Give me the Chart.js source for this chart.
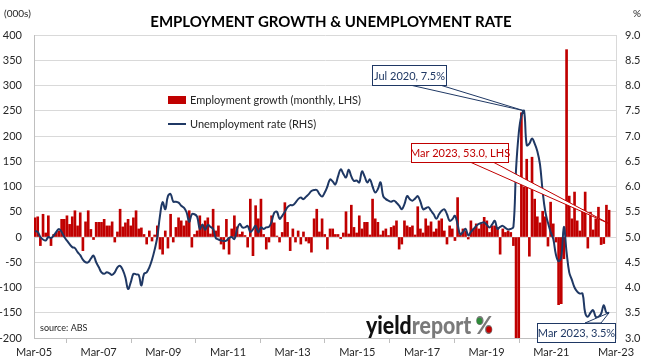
<!DOCTYPE html>
<html>
<head>
<meta charset="utf-8">
<script src="https://cdn.jsdelivr.net/npm/chart.js@4.4.1/dist/chart.umd.min.js"></script>
<style>
  html, body { margin: 0; padding: 0; background: #fff; }
  #wrap { width: 662px; height: 363px; }
</style>
</head>
<body>
<div id="wrap"><canvas id="chart" width="662" height="363"></canvas></div>
<script>
// Monthly employment change (000s), Mar 2005 .. Mar 2023
const empChange = [
    38, 40, -17, 45, 8, 42, -17, 5, 9, 12,                  // 2005 (Mar-Dec)
    35, 35, 42, 25, 40, 52, 22, 48, -27, 30, 52, 15,        // 2006
    -5, 29, 29, 29, 35, 22, 22, 30, -10, 10, 55, 20,        // 2007
    28, 35, 22, 38, 52, 16, 18, 5, -14, 12, -8, 4,          // 2008
    22, -24, -34, 12, -22, 45, -10, 19, 38, 32, 22, 32,     // 2009
    52, -20, 5, 12, 42, 22, 32, 38, 6, 55, 12, 22,          // 2010
    -14, -24, 35, -34, 16, 42, 20, 5, 10, 3, -20, 75,       // 2011
    -37, 62, 36, 75, 5, -24, -10, 42, 28, 2, -10, 9,        // 2012
    68, 29, -27, 16, -10, 12, -14, 10, -8, -12, -30, 36,    // 2013
    55, 10, 36, 5, -24, 16, 16, 5, 5, -3, 8, 50,            // 2014
    6, 63, 19, 8, 42, 16, 29, 29, 4, 75, 36, 29,            // 2015
    4, 12, 16, 3, 19, 22, 32, -24, -14, 32, 22, 19,         // 2016
    22, 4, 60, 16, 8, 36, 22, 30, 10, 16, 32, 36,           // 2017
    12, -14, 22, 16, -7, 78, 4, 16, 12, -4, 32, 16,         // 2018
    26, 16, 26, 39, 32, 9, 22, 22, 19, -34, 16, 9,          // 2019
    12, 9, -17, -600, -250, 246, 99, 154, -38, 158, 75, 40, // 2020
    28, 51, 40, -18, 69, 26, -10, -134, -132, -43, 371, 81, // 2021
    36, 89, 32, 12, 54, 89, -22, 49, 14, 36, 59, -15,       // 2022
    -13, 63, 53                                             // 2023 (Jan-Mar)
];

// Unemployment rate (%), same months
const unempRate = [
    5.12, 5.1, 5.0, 4.95, 4.93, 5.0, 4.98, 5.03, 5.1, 5.16,
    5.1, 5.0, 4.93, 4.86, 4.8, 4.78, 4.7, 4.64, 4.55, 4.5, 4.5, 4.57,
    4.63, 4.5, 4.4, 4.3, 4.27, 4.3, 4.28, 4.25, 4.3, 4.4, 4.43, 4.35,
    4.2, 3.97, 4.1, 4.27, 4.26, 4.25, 4.04, 4.27, 4.3, 4.4, 4.55, 4.75,
    5.0, 5.42, 5.69, 5.55, 5.81, 5.85, 5.7, 5.7, 5.68, 5.62, 5.58, 5.49,
    5.3, 5.45, 5.45, 5.4, 5.16, 5.25, 5.14, 5.24, 5.2, 5.16, 4.98, 4.95,
    4.93, 4.92, 4.93, 4.98, 5.0, 4.96, 5.15, 5.26, 5.19, 5.19, 5.22, 5.1,
    5.15, 5.22, 5.09, 5.19, 5.16, 5.19, 5.2, 5.3, 5.48, 5.5, 5.36, 5.42,
    5.5, 5.59, 5.63, 5.63, 5.68, 5.75, 5.78, 5.75, 5.8, 5.85, 5.91, 5.93,
    5.93, 5.85, 5.8, 5.88, 6.0, 6.14, 6.1, 6.04, 6.2, 6.34, 6.25, 6.18,
    6.33, 6.2, 6.11, 6.12, 6.08, 6.3, 6.2, 6.08, 6.14, 6.0, 5.88, 5.95,
    6.08, 5.81, 5.75, 5.72, 5.7, 5.72, 5.68, 5.62, 5.55, 5.65, 5.81, 5.75,
    5.72, 5.76, 5.81, 5.7, 5.55, 5.57, 5.59, 5.52, 5.45, 5.36, 5.45, 5.52,
    5.55, 5.45, 5.32, 5.35, 5.42, 5.25, 5.05, 5.1, 5.16, 5.03, 5.1, 5.16,
    5.22, 5.26, 5.28, 5.29, 5.24, 5.19, 5.25, 5.32, 5.16, 5.2, 5.22, 5.18,
    5.15, 5.16, 5.2, 6.35, 7.05, 7.4, 7.5, 6.82, 6.85, 6.95, 6.85, 6.7,
    6.44, 5.9, 5.5, 5.28, 5.1, 4.96, 4.65, 4.52, 4.6, 5.2, 4.7, 4.3,
    4.15, 4.0, 3.92, 3.88, 3.88, 3.5, 3.42, 3.5, 3.55, 3.42, 3.42, 3.48,
    3.65, 3.5, 3.5
];

const xTickLabels = ['Mar-05', 'Mar-07', 'Mar-09', 'Mar-11', 'Mar-13', 'Mar-15', 'Mar-17', 'Mar-19', 'Mar-21', 'Mar-23'];
const monthNames = ['Jan', 'Feb', 'Mar', 'Apr', 'May', 'Jun', 'Jul', 'Aug', 'Sep', 'Oct', 'Nov', 'Dec'];

// month label for each point (series starts Mar 2005)
const months = empChange.map((_, i) => {
    const t = 2 + i;
    return monthNames[t % 12] + ' ' + (2005 + Math.floor(t / 12));
});

const RED = '#C00000';
const NAVY = '#1F3864';
const TEXT = '#262626';

// Excel date axis runs slightly past the last bar
const xMin = -0.4, xMax = 218.6;

function callout(ctx, text, box, base, tip, color, textColor) {
    ctx.strokeStyle = color;
    ctx.lineWidth = 1;
    ctx.fillStyle = '#fff';
    ctx.beginPath();
    ctx.moveTo(base[0], base[1]);
    ctx.lineTo(tip.x, tip.y);
    ctx.lineTo(base[2], base[3]);
    ctx.closePath();
    ctx.fill();
    ctx.stroke();
    ctx.fillRect(box.x, box.y, box.w, box.h);
    ctx.strokeRect(box.x + 0.5, box.y + 0.5, box.w, box.h);
    ctx.fillStyle = textColor;
    ctx.font = '11px Lato';
    ctx.textAlign = 'center';
    ctx.textBaseline = 'middle';
    ctx.fillText(text, box.x + box.w / 2 + 0.5, box.y + box.h / 2 + 1);
}

const overlay = {
    id: 'overlay',
    afterDraw(chart) {
        const ctx = chart.ctx;
        const xs = chart.scales.x, yL = chart.scales.y, yR = chart.scales.y1;
        ctx.save();

        // title and axis units
        ctx.fillStyle = '#000';
        ctx.font = 'bold 15px Lato';
        ctx.textAlign = 'center';
        ctx.textBaseline = 'middle';
        ctx.fillText('EMPLOYMENT GROWTH & UNEMPLOYMENT RATE', 331, 22);
        ctx.font = '10px Lato';
        ctx.fillStyle = TEXT;
        ctx.textAlign = 'left';
        ctx.fillText('(000s)', 4, 14);
        ctx.fillText('%', 633, 14);

        // legend
        ctx.fillStyle = RED;
        ctx.fillRect(168, 96, 18, 8);
        ctx.strokeStyle = NAVY;
        ctx.lineWidth = 2;
        ctx.beginPath();
        ctx.moveTo(168, 124);
        ctx.lineTo(186, 124);
        ctx.stroke();
        ctx.fillStyle = TEXT;
        ctx.font = '11px Lato';
        ctx.fillText('Employment growth (monthly, LHS)', 190, 100);
        ctx.fillText('Unemployment rate (RHS)', 190, 124);

        // source + logo
        ctx.font = '9px Lato';
        ctx.fillText('source: ABS', 40, 328);
        ctx.save();
        ctx.translate(366, 334);
        ctx.scale(0.85, 1);
        ctx.font = '900 25px Lato';
        ctx.textBaseline = 'alphabetic';
        ctx.fillStyle = '#111';
        ctx.fillText('yield', 0, 0);
        const w1 = ctx.measureText('yield').width;
        ctx.fillStyle = '#7a7a7a';
        ctx.fillText('report', w1, 0);
        const w2 = ctx.measureText('report').width;
        ctx.fillText('%', w1 + w2 + 5, 0);
        const pw = ctx.measureText('%').width;
        ctx.fillStyle = '#2E8B3A';
        ctx.beginPath();
        ctx.arc(w1 + w2 + 5 + pw * 0.22, -13, 3.2, 0, Math.PI * 2);
        ctx.fill();
        ctx.fillStyle = RED;
        ctx.beginPath();
        ctx.arc(w1 + w2 + 5 + pw * 0.76, -4.5, 3.2, 0, Math.PI * 2);
        ctx.fill();
        ctx.restore();

        // callouts
        const last = empChange.length - 1;
        const peak = unempRate.indexOf(Math.max(...unempRate));
        callout(ctx, months[peak] + ', ' + unempRate[peak].toFixed(1) + '%',
            { x: 372, y: 65, w: 74, h: 20 }, [410, 85, 440, 85],
            { x: xs.getPixelForValue(peak), y: yR.getPixelForValue(unempRate[peak]) }, NAVY, NAVY);
        callout(ctx, months[last] + ', ' + empChange[last].toFixed(1) + ', LHS',
            { x: 411, y: 143, w: 97, h: 19 }, [470, 162, 493, 162],
            { x: xs.getPixelForValue(last), y: yL.getPixelForValue(empChange[last] / 2) }, RED, RED);
        callout(ctx, months[last] + ', ' + unempRate[last].toFixed(1) + '%',
            { x: 537, y: 323, w: 78, h: 19 }, [585, 323, 601, 323],
            { x: xs.getPixelForValue(last), y: yR.getPixelForValue(unempRate[last]) }, NAVY, NAVY);

        ctx.restore();
    }
};

const tickFont = { family: 'Lato', size: 11 };

new Chart(document.getElementById('chart'), {
    type: 'bar',
    data: {
        datasets: [
            {
                type: 'line',
                label: 'Unemployment rate (RHS)',
                data: unempRate.map((v, i) => ({ x: i, y: v })),
                yAxisID: 'y1',
                borderColor: NAVY,
                borderWidth: 2,
                pointRadius: 0,
                tension: 0.4,
                order: 0
            },
            {
                type: 'bar',
                label: 'Employment growth (monthly, LHS)',
                data: empChange.map((v, i) => ({ x: i, y: v })),
                yAxisID: 'y',
                backgroundColor: RED,
                barThickness: 2,
                order: 1
            }
        ]
    },
    options: {
        responsive: false,
        animation: false,
        layout: { padding: { top: 35, left: 0, right: 0, bottom: 0 } },
        plugins: {
            legend: { display: false },
            title: { display: false },
            tooltip: { enabled: false }
        },
        scales: {
            x: {
                type: 'linear',
                min: xMin,
                max: xMax,
                offset: false,
                afterBuildTicks(scale) {
                    const step = (xMax - xMin) / (xTickLabels.length - 1);
                    scale.ticks = xTickLabels.map((_, i) => ({ value: xMin + i * step }));
                },
                afterFit(scale) { scale.height = 25; },
                ticks: {
                    autoSkip: false,
                    maxRotation: 0,
                    padding: 3,
                    color: TEXT,
                    font: tickFont,
                    callback: (v, i) => xTickLabels[i]
                },
                grid: { drawOnChartArea: false, tickLength: 5, color: '#BFBFBF' },
                border: { color: '#BFBFBF' }
            },
            y: {
                position: 'left',
                min: -200,
                max: 400,
                afterFit(scale) { scale.width = 34; },
                ticks: { stepSize: 50, padding: 12, color: TEXT, font: tickFont },
                grid: { color: '#D9D9D9', drawTicks: false },
                border: { color: '#BFBFBF' }
            },
            y1: {
                position: 'right',
                min: 3,
                max: 9,
                afterFit(scale) { scale.width = 46; },
                ticks: { stepSize: 0.5, padding: 9, color: TEXT, font: tickFont, callback: v => v.toFixed(1) },
                grid: { drawOnChartArea: false, drawTicks: false },
                border: { color: '#D9D9D9' }
            }
        }
    },
    plugins: [overlay]
});
</script>
</body>
</html>
